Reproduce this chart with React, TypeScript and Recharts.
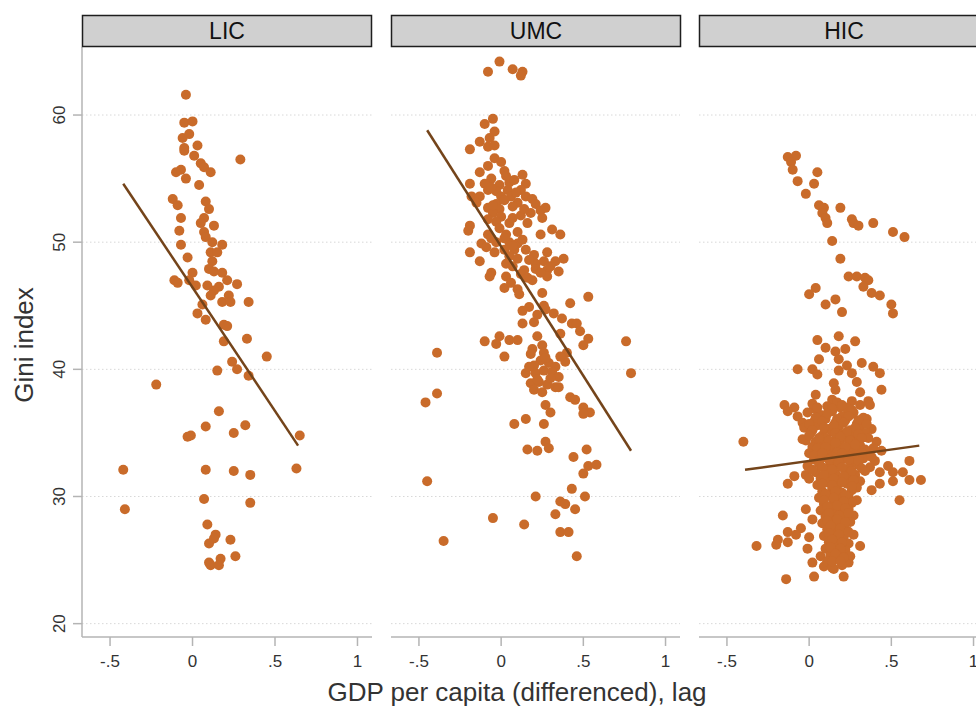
import React from 'react';
import { ScatterChart, Scatter, XAxis, YAxis, CartesianGrid } from 'recharts';

const DOT = '#C96B2A';
const FIT = '#74441A';
const AXIS = '#B4B4B4';
const TEXT = '#333';

const X_TICKS = [-0.5, 0, 0.5, 1];
const Y_TICKS = [20, 30, 40, 50, 60];
const X_DOMAIN: [number, number] = [-0.67, 1.088];
const Y_DOMAIN: [number, number] = [18.95, 65.35];
const PANEL_NAMES = ['LIC', 'UMC', 'HIC'];
const Y_TITLE = 'Gini index';
const X_TITLE = 'GDP per capita (differenced), lag';

// [gdp growth lag, gini]
const licPoints: [number, number][] = [
  [-0.04, 61.6], [-0.05, 59.4], [0.0, 59.5], [-0.06, 58.2], [-0.02, 58.5], [-0.05, 57.4], [-0.05, 57.2],
  [0.03, 57.6], [0.29, 56.5], [0.01, 56.8], [0.05, 56.2], [0.07, 55.9], [0.11, 55.5], [-0.1, 55.5],
  [-0.07, 55.7], [-0.04, 55.0], [0.04, 54.5], [-0.12, 53.4], [-0.09, 52.9], [0.08, 53.2], [0.1, 52.6],
  [-0.07, 51.9], [0.07, 51.9], [0.05, 51.5], [0.13, 51.3], [-0.08, 50.9], [0.07, 50.8], [0.08, 50.4],
  [-0.07, 49.8], [0.12, 50.0], [0.18, 49.8], [0.11, 49.2], [0.15, 49.2], [-0.03, 48.8], [0.12, 48.5],
  [0.1, 47.9], [0.13, 47.7], [0.18, 47.6], [0.0, 47.6], [-0.11, 47.0], [-0.09, 46.8], [-0.02, 47.0],
  [0.02, 46.6], [0.21, 47.0], [0.27, 46.7], [0.09, 46.6], [0.16, 46.5], [0.13, 46.2], [0.11, 45.8],
  [0.18, 45.3], [0.22, 45.8], [0.23, 45.3], [0.34, 45.3], [0.06, 45.1], [0.03, 44.4], [0.08, 43.9],
  [0.19, 43.5], [0.21, 43.4], [0.19, 42.2], [0.33, 42.4], [0.45, 41.0], [0.24, 40.6], [0.27, 40.0],
  [0.15, 39.9], [0.34, 39.5], [-0.22, 38.8], [0.16, 36.7], [0.08, 35.5], [0.32, 35.6], [-0.03, 34.7],
  [-0.01, 34.8], [0.25, 35.0], [0.65, 34.8], [-0.42, 32.1], [0.08, 32.1], [0.25, 32.0], [0.35, 31.7],
  [0.63, 32.2], [-0.41, 29.0], [0.07, 29.8], [0.35, 29.5], [0.09, 27.8], [0.14, 27.0], [0.13, 26.7],
  [0.1, 26.3], [0.23, 26.6], [0.26, 25.3], [0.1, 24.8], [0.11, 24.6], [0.17, 25.1], [0.16, 24.6],
];

const umcPoints: [number, number][] = [
  [-0.01, 64.2], [-0.08, 63.4], [0.07, 63.6], [0.13, 63.4], [0.12, 63.1],
  [-0.05, 59.7], [-0.1, 59.3], [-0.04, 58.7], [-0.07, 58.2], [-0.13, 57.9], [-0.19, 57.3], [-0.08, 57.5],
  [-0.04, 57.6], [-0.04, 56.6], [0.0, 56.3], [-0.08, 56.0], [0.02, 55.6], [-0.13, 55.5], [0.13, 55.3],
  [-0.06, 55.0], [-0.1, 54.6], [-0.19, 54.6], [-0.01, 54.5], [0.05, 54.7], [0.08, 54.9], [0.15, 54.6],
  [-0.08, 54.1], [-0.03, 54.0], [0.04, 54.1], [0.12, 54.1], [-0.18, 53.6], [-0.13, 53.6], [0.0, 53.6],
  [0.06, 53.6], [0.15, 53.6], [0.19, 53.4], [-0.15, 53.1], [-0.03, 53.0], [0.1, 53.1], [0.21, 53.0],
  [-0.08, 52.7], [-0.01, 52.6], [0.07, 52.8], [0.27, 52.7], [-0.05, 52.3], [0.18, 52.3], [0.24, 52.5],
  [0.0, 52.0], [0.12, 52.1], [0.25, 51.9], [-0.03, 51.6], [0.05, 51.5], [-0.19, 51.3], [-0.2, 50.9],
  [-0.01, 51.1], [0.1, 50.8], [0.03, 50.6], [-0.08, 50.6], [0.31, 51.0], [0.36, 50.6], [0.24, 50.6],
  [-0.12, 49.9], [-0.03, 50.0], [0.05, 50.0], [0.1, 49.9], [-0.09, 49.6], [-0.04, 49.2], [0.02, 49.4],
  [0.08, 49.4], [0.15, 49.4], [-0.19, 49.2], [0.05, 48.9], [0.1, 48.7], [0.2, 49.0], [0.28, 49.2],
  [0.38, 48.7], [-0.13, 48.5], [0.03, 48.3], [0.21, 48.3], [0.26, 48.5], [0.33, 48.5], [0.07, 48.1],
  [0.21, 47.9], [0.28, 47.8], [0.35, 47.7], [0.14, 47.8], [-0.06, 47.6], [-0.07, 47.3], [0.03, 47.3],
  [0.12, 47.5], [0.28, 47.3], [0.19, 47.0], [0.02, 46.4], [0.1, 46.3], [0.11, 45.9], [0.25, 46.0],
  [0.42, 45.2], [0.53, 45.7], [0.17, 44.9], [0.26, 45.0], [0.27, 44.7], [0.32, 44.4], [0.37, 44.0],
  [0.13, 43.6], [0.2, 43.7], [0.43, 43.6], [0.46, 43.6], [0.48, 43.0], [-0.1, 42.2], [-0.01, 42.6],
  [-0.03, 42.0], [0.05, 42.3], [0.1, 42.3], [0.22, 42.6], [0.36, 42.8], [0.53, 42.4], [0.5, 41.9],
  [0.76, 42.2], [-0.39, 41.3], [0.02, 41.0], [0.19, 41.6], [0.18, 41.2], [0.25, 41.9], [0.26, 41.3],
  [0.4, 41.3], [0.39, 40.6], [0.24, 40.7], [0.29, 40.5], [0.33, 40.2], [0.79, 39.7], [0.15, 39.7],
  [0.21, 39.7], [0.26, 39.9], [0.31, 39.8], [0.35, 39.4], [0.18, 38.9], [0.23, 39.0], [0.28, 38.8],
  [0.33, 38.6], [0.35, 38.6], [0.2, 38.4], [0.25, 38.2], [-0.39, 38.1], [-0.46, 37.4], [0.42, 37.8],
  [0.45, 37.6], [0.27, 37.2], [0.3, 36.6], [0.5, 37.0], [0.54, 36.6], [0.5, 36.5], [0.08, 35.7],
  [0.15, 36.1], [0.26, 35.7], [0.27, 34.3], [0.29, 33.8], [0.16, 33.7], [0.22, 33.6], [0.52, 33.7],
  [0.44, 33.1], [0.53, 32.4], [0.58, 32.5], [0.5, 31.8], [-0.45, 31.2], [0.43, 30.6], [0.21, 30.0],
  [0.51, 30.0], [0.36, 29.6], [0.39, 29.4], [0.45, 29.0], [0.33, 28.6], [-0.05, 28.3], [0.14, 27.8],
  [0.36, 27.2], [0.41, 27.2], [-0.35, 26.5], [0.46, 25.3],
  [0.03, 55.2], [-0.06, 54.3], [0.09, 53.9], [0.02, 53.3], [-0.05, 52.9], [0.14, 52.6], [0.07, 51.9],
  [-0.08, 51.8], [0.16, 51.5], [0.02, 50.3], [0.13, 50.2], [-0.06, 50.3], [0.07, 49.7], [0.17, 48.6],
  [0.24, 47.6], [0.3, 48.1], [0.16, 47.2], [0.06, 46.8], [0.13, 44.6], [0.22, 44.3], [0.2, 40.3],
  [0.27, 40.9], [0.22, 39.2], [0.3, 39.3], [0.17, 40.2], [0.36, 41.0],
];

const hicPoints: [number, number][] = [
  [-0.13, 56.7], [-0.08, 56.8], [-0.11, 56.3], [-0.1, 55.7], [0.05, 55.5], [-0.07, 54.8], [0.03, 54.6],
  [-0.02, 53.8], [0.06, 52.9], [0.09, 52.7], [0.19, 52.7], [0.08, 52.3], [0.1, 51.9], [0.11, 51.5],
  [0.26, 51.8], [0.27, 51.5], [0.3, 51.3], [0.39, 51.5], [0.51, 50.8], [0.58, 50.4], [0.14, 50.1],
  [0.19, 48.7], [0.24, 47.3], [0.29, 47.3], [0.34, 47.2], [0.36, 47.0], [0.33, 46.5], [0.04, 46.4],
  [0.0, 45.9], [0.38, 46.0], [0.43, 45.8], [0.16, 45.5], [0.1, 45.1], [0.5, 45.1], [0.51, 44.4],
  [0.2, 44.5], [0.05, 42.3], [0.18, 42.6], [0.28, 42.2], [0.1, 41.7], [0.16, 41.4], [0.22, 41.6],
  [0.18, 40.8], [0.06, 40.8], [-0.07, 40.0], [0.02, 40.0], [0.05, 39.6], [0.18, 39.9], [0.23, 40.3],
  [0.26, 39.7], [0.32, 40.5], [0.39, 40.2], [0.43, 39.7], [0.29, 39.0], [0.15, 38.9], [0.16, 38.4],
  [0.44, 38.4], [0.31, 38.2], [0.04, 38.0], [0.14, 37.6], [0.26, 37.5], [0.31, 37.2], [0.36, 37.5],
  [0.37, 37.2], [-0.15, 37.2], [-0.09, 37.0], [-0.13, 36.7], [0.03, 36.9], [0.19, 37.0], [0.23, 37.0],
  [0.26, 36.5], [0.35, 36.1], [-0.07, 36.3], [-0.04, 35.8], [-0.4, 34.3], [0.41, 34.3], [-0.02, 34.4],
  [0.61, 32.8], [0.48, 32.4], [0.51, 31.9], [0.57, 31.9], [0.61, 31.3], [0.68, 31.3], [0.51, 31.2],
  [0.43, 31.0], [0.38, 30.5], [0.55, 29.7], [-0.09, 31.6], [-0.13, 31.0], [-0.02, 31.7], [0.0, 31.4],
  [0.43, 31.9], [-0.16, 28.5], [-0.02, 29.0], [0.02, 28.2], [-0.13, 27.2], [-0.05, 27.5], [-0.08, 27.0],
  [0.0, 26.8], [-0.19, 26.6], [-0.2, 26.2], [-0.13, 26.4], [-0.32, 26.1], [-0.01, 25.9], [0.31, 26.1],
  [0.02, 24.8], [0.24, 24.8], [-0.14, 23.5], [0.03, 23.7], [0.21, 23.7], [0.09, 24.5], [0.15, 24.3],
  [0.07, 25.3], [0.22, 25.3],
  // dense core
  [0.02, 37.3], [0.11, 37.1], [0.17, 37.4], [0.23, 36.9], [-0.01, 36.6], [0.07, 36.4], [0.14, 36.7],
  [0.2, 36.3], [0.27, 36.6], [0.33, 36.2], [0.03, 35.9], [0.1, 36.1], [0.16, 35.8], [0.22, 36.0],
  [0.29, 35.7], [-0.03, 35.4], [0.05, 35.6], [0.12, 35.3], [0.18, 35.5], [0.25, 35.2], [0.31, 35.5],
  [0.38, 35.3], [0.01, 35.0], [0.08, 34.8], [0.14, 35.1], [0.2, 34.9], [0.27, 34.7], [0.34, 35.0],
  [-0.04, 34.5], [0.04, 34.3], [0.1, 34.6], [0.16, 34.4], [0.22, 34.6], [0.29, 34.3], [0.36, 34.6],
  [0.02, 33.9], [0.08, 34.1], [0.13, 33.8], [0.19, 34.0], [0.25, 33.7], [0.31, 34.0], [0.39, 33.8],
  [0.0, 33.4], [0.06, 33.6], [0.11, 33.3], [0.17, 33.5], [0.23, 33.2], [0.29, 33.5], [0.35, 33.3],
  [0.44, 33.6], [0.03, 32.9], [0.09, 33.1], [0.15, 32.8], [0.21, 33.0], [0.27, 32.7], [0.33, 33.0],
  [0.4, 32.8], [-0.01, 32.4], [0.06, 32.6], [0.12, 32.3], [0.18, 32.5], [0.24, 32.2], [0.3, 32.5],
  [0.37, 32.3], [0.04, 31.9], [0.1, 32.1], [0.16, 31.8], [0.22, 32.0], [0.28, 31.7], [0.34, 32.0],
  [0.07, 31.4], [0.13, 31.6], [0.19, 31.3], [0.25, 31.5], [0.31, 31.2], [0.05, 30.9], [0.11, 31.1],
  [0.17, 30.8], [0.23, 31.0], [0.29, 30.7], [0.08, 30.4], [0.14, 30.6], [0.2, 30.3], [0.26, 30.5],
  [0.06, 29.9], [0.12, 30.1], [0.18, 29.8], [0.24, 30.0], [0.29, 29.7], [0.09, 29.4], [0.15, 29.6],
  [0.21, 29.3], [0.26, 29.5], [0.07, 28.9], [0.13, 29.1], [0.19, 28.8], [0.24, 29.0], [0.1, 28.4],
  [0.16, 28.6], [0.22, 28.3], [0.27, 28.5], [0.08, 27.9], [0.14, 28.1], [0.2, 27.8], [0.25, 28.0],
  [0.11, 27.4], [0.17, 27.6], [0.23, 27.3], [0.09, 26.9], [0.15, 27.1], [0.21, 26.8], [0.27, 27.0],
  [0.12, 26.4], [0.18, 26.6], [0.24, 26.3], [0.1, 25.9], [0.16, 26.1], [0.22, 25.8], [0.13, 25.4],
  [0.19, 25.6], [0.25, 25.3], [0.11, 24.9], [0.17, 25.1], [0.22, 24.8], [0.14, 24.4], [0.2, 24.6],
  [0.05, 37.0], [0.14, 36.9], [0.2, 37.2], [0.26, 36.8], [0.04, 36.2], [0.11, 36.5], [0.17, 36.1],
  [0.24, 36.3], [0.3, 36.0], [0.0, 35.7], [0.08, 35.9], [0.15, 35.6], [0.21, 35.8], [0.28, 35.4],
  [0.35, 35.7], [0.02, 35.2], [0.09, 35.4], [0.16, 35.0], [0.23, 35.1], [0.3, 34.9], [0.0, 34.8],
  [0.06, 34.6], [0.12, 34.4], [0.19, 34.7], [0.25, 34.4], [0.32, 34.6], [0.05, 33.8], [0.1, 33.9],
  [0.16, 34.2], [0.22, 33.9], [0.28, 34.1], [0.34, 33.7], [0.03, 33.2], [0.08, 33.4], [0.14, 33.1],
  [0.2, 33.4], [0.26, 33.1], [0.32, 33.4], [0.38, 33.1], [0.06, 32.8], [0.12, 32.9], [0.18, 32.7],
  [0.24, 32.9], [0.3, 32.8], [0.02, 32.1], [0.08, 32.3], [0.14, 32.1], [0.2, 32.3], [0.26, 32.0],
  [0.32, 32.2], [0.09, 31.7], [0.15, 31.4], [0.21, 31.6], [0.27, 31.3], [0.08, 31.0], [0.14, 30.9],
  [0.2, 31.1], [0.26, 30.8], [0.1, 30.2], [0.16, 30.4], [0.22, 30.1], [0.09, 29.7], [0.15, 29.9],
  [0.21, 29.6], [0.11, 29.2], [0.17, 29.3], [0.22, 29.1], [0.12, 28.7], [0.18, 28.5], [0.24, 28.7],
  [0.11, 28.1], [0.17, 28.2], [0.22, 28.0], [0.13, 27.7], [0.19, 27.5], [0.12, 27.1], [0.18, 27.0],
  [0.24, 27.2], [0.14, 26.6], [0.2, 26.4], [0.13, 26.0], [0.19, 25.9], [0.16, 25.5], [0.21, 25.2],
  [0.14, 24.9], [0.19, 24.9],
];

// fitted line end points
const licFit: [number, number][] = [[-0.42, 54.6], [0.64, 34.0]];
const umcFit: [number, number][] = [[-0.45, 58.8], [0.79, 33.6]];
const hicFit: [number, number][] = [[-0.39, 32.1], [0.67, 34.0]];

const toRows = (pts: [number, number][]) => pts.map(([x, y]) => ({ x, y }));

const fmtX = (v: number) => (v === 0 || v === 1 ? String(v) : String(v).replace('0.', '.'));

const YTick = (props: any) => {
  const { x, y, payload } = props;
  const tx = x - 6;
  return (
    <text x={tx} y={y} transform={`rotate(-90 ${tx} ${y})`} textAnchor="middle" fontSize={17} fill={TEXT}>
      {payload.value}
    </text>
  );
};

const dot = (p: any) => <circle cx={p.cx} cy={p.cy} r={5} fill={DOT} />;

function Panel({ points, fit, left, width, showY }: any) {
  return (
    <div style={{ position: 'absolute', left, top: 0 }}>
      <ScatterChart width={width} height={707} margin={{ top: 47, right: showY ? 8 : 0, bottom: 0, left: 0 }}>
        <CartesianGrid
          vertical={false}
          horizontalValues={Y_TICKS}
          stroke="#D8D8D8"
          strokeDasharray="1.5 2.5"
        />
        <XAxis
          type="number"
          dataKey="x"
          domain={X_DOMAIN}
          ticks={X_TICKS}
          tickFormatter={fmtX}
          allowDataOverflow
          height={70}
          tickSize={9}
          tickMargin={9}
          axisLine={{ stroke: AXIS, strokeWidth: 1.5 }}
          tickLine={{ stroke: AXIS, strokeWidth: 1.5 }}
          tick={{ fontSize: 17, fill: TEXT }}
        />
        <YAxis
          type="number"
          dataKey="y"
          domain={Y_DOMAIN}
          ticks={Y_TICKS}
          allowDataOverflow
          hide={!showY}
          width={82}
          tickSize={9}
          tickMargin={2}
          axisLine={{ stroke: AXIS, strokeWidth: 1.5 }}
          tickLine={{ stroke: AXIS, strokeWidth: 1.5 }}
          tick={<YTick />}
        />
        <Scatter data={toRows(points)} shape={dot} isAnimationActive={false} />
        <Scatter
          data={toRows(fit)}
          line={{ stroke: FIT, strokeWidth: 2.5 }}
          shape={() => <g />}
          isAnimationActive={false}
        />
      </ScatterChart>
    </div>
  );
}

const PANELS = [
  { points: licPoints, fit: licFit, left: 0, width: 380, showY: true, box: 82 },
  { points: umcPoints, fit: umcFit, left: 391, width: 289, showY: false, box: 391 },
  { points: hicPoints, fit: hicFit, left: 699, width: 289, showY: false, box: 699 },
];

export default function App() {
  return (
    <div
      style={{
        position: 'relative',
        width: 976,
        height: 707,
        overflow: 'hidden',
        background: '#fff',
        fontFamily: '"Liberation Sans", Arial, sans-serif',
      }}
    >
      <style>{'body{margin:0}'}</style>
      {PANELS.map((p, i) => (
        <Panel key={PANEL_NAMES[i]} {...p} />
      ))}
      <svg width={976} height={707} style={{ position: 'absolute', left: 0, top: 0, pointerEvents: 'none' }}>
        {PANELS.map((p, i) => (
          <g key={PANEL_NAMES[i]}>
            <rect x={p.box + 0.5} y={15.5} width={289} height={31} fill="#D0D0D0" stroke="#1E1E1E" strokeWidth={1.5} />
            <text x={p.box + 145} y={39} textAnchor="middle" fontSize={23} fill="#111">
              {PANEL_NAMES[i]}
            </text>
          </g>
        ))}
        <text x={33} y={345} transform="rotate(-90 33 345)" textAnchor="middle" fontSize={26} fill={TEXT}>
          {Y_TITLE}
        </text>
        <text x={517} y={701} textAnchor="middle" fontSize={26} fill={TEXT}>
          {X_TITLE}
        </text>
      </svg>
    </div>
  );
}
